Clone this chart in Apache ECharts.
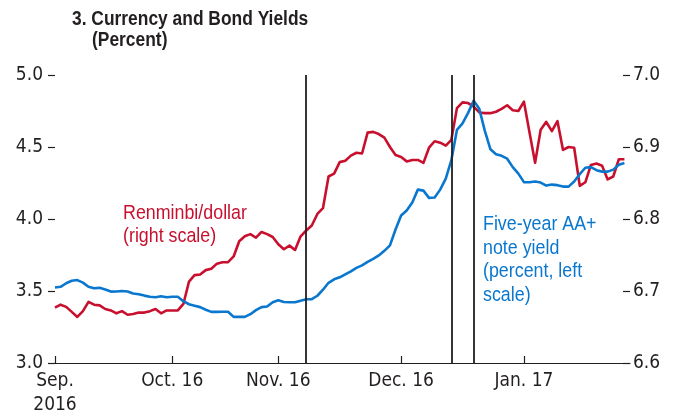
<!DOCTYPE html>
<html>
<head>
<meta charset="utf-8">
<script src="https://cdn.jsdelivr.net/npm/echarts@6/dist/echarts.min.js"></script>
<style>
  html, body { margin: 0; padding: 0; background: #fff; }
  #chart { width: 674px; height: 417px; }
</style>
</head>
<body>
<div id="chart"></div>
<script>
// Trading calendar: weekdays from 1 Sep 2016 to 27 Jan 2017, minus market closures
const firstDay = '2016-09-01';
const lastDay = '2017-01-27';
const closedDays = ['2016-09-15', '2016-10-03', '2016-10-04'];

// Month tick labels, in calendar order
const monthLabels = ['Sep.\n2016', 'Oct. 16', 'Nov. 16', 'Dec. 16', 'Jan. 17'];

// Event dates marked with vertical rules
const eventDates = ['2016-11-08', '2016-12-14', '2016-12-20'];

// Five-year AA+ note yield (percent, left scale)
const noteYield = [
  3.524, 3.529, 3.554, 3.571, 3.576, 3.558, 3.529, 3.519, 3.522, 3.510,
  3.496, 3.497, 3.500, 3.497, 3.483, 3.478, 3.468, 3.460, 3.457, 3.464,
  3.457, 3.460, 3.460, 3.429, 3.408, 3.398, 3.388, 3.370, 3.355, 3.355,
  3.356, 3.356, 3.320, 3.320, 3.320, 3.339, 3.367, 3.388, 3.392, 3.422,
  3.436, 3.424, 3.422, 3.422, 3.433, 3.443, 3.443, 3.467, 3.509, 3.557,
  3.581, 3.595, 3.616, 3.637, 3.661, 3.678, 3.702, 3.723, 3.747, 3.779,
  3.817, 3.927, 4.024, 4.059, 4.114, 4.204, 4.197, 4.147, 4.149, 4.204,
  4.280, 4.408, 4.619, 4.664, 4.737, 4.822, 4.765, 4.612, 4.484, 4.450,
  4.439, 4.419, 4.360, 4.315, 4.256, 4.255, 4.260, 4.253, 4.232, 4.239,
  4.235, 4.225, 4.225, 4.260, 4.311, 4.356, 4.360, 4.339, 4.329, 4.329,
  4.343, 4.377, 4.389
];

// Renminbi per dollar (right scale)
const rmbPerDollar = [
  6.677, 6.681, 6.678, 6.671, 6.664, 6.672, 6.685, 6.681, 6.680, 6.675,
  6.673, 6.669, 6.672, 6.667, 6.668, 6.670, 6.670, 6.672, 6.675, 6.669,
  6.673, 6.673, 6.673, 6.682, 6.713, 6.722, 6.723, 6.729, 6.731, 6.738,
  6.740, 6.740, 6.748, 6.769, 6.776, 6.779, 6.774, 6.782, 6.779, 6.775,
  6.765, 6.758, 6.763, 6.757, 6.776, 6.784, 6.791, 6.807, 6.815, 6.859,
  6.863, 6.879, 6.881, 6.888, 6.892, 6.891, 6.920, 6.921, 6.918, 6.913,
  6.900, 6.889, 6.886, 6.880, 6.882, 6.882, 6.878, 6.899, 6.908, 6.906,
  6.902, 6.910, 6.954, 6.962, 6.961, 6.956, 6.948, 6.947, 6.947, 6.949,
  6.953, 6.958, 6.951, 6.950, 6.963, 6.920, 6.878, 6.924, 6.935, 6.922,
  6.936, 6.896, 6.900, 6.899, 6.846, 6.851, 6.875, 6.877, 6.874, 6.855,
  6.859, 6.883, 6.883
];

// Build the list of trading days
function pad(n) { return n < 10 ? '0' + n : '' + n; }
function tradingDays(from, to, closed) {
  const out = [];
  const d = new Date(from + 'T00:00:00Z');
  const end = new Date(to + 'T00:00:00Z');
  while (d <= end) {
    const wd = d.getUTCDay();
    const s = d.getUTCFullYear() + '-' + pad(d.getUTCMonth() + 1) + '-' + pad(d.getUTCDate());
    if (wd !== 0 && wd !== 6 && closed.indexOf(s) < 0) out.push(s);
    d.setUTCDate(d.getUTCDate() + 1);
  }
  return out;
}
const days = tradingDays(firstDay, lastDay, closedDays);

// First trading day of each month gets a tick and a label
const monthStart = {};
let monthCount = 0;
days.forEach((s, i) => {
  const m = s.slice(0, 7);
  if (i === 0 || m !== days[i - 1].slice(0, 7)) {
    monthStart[i] = monthLabels[monthCount++];
  }
});

const RED = '#c8102e';
const BLUE = '#0a77cf';
const INK = '#231f20';
const AXIS_FONT = '"DejaVu Sans Condensed", "Liberation Sans", sans-serif';
const TEXT_FONT = '"Liberation Sans", Arial, sans-serif';

const chart = echarts.init(document.getElementById('chart'), null, { renderer: 'canvas' });

// Narrowed text blocks (horizontal squeeze gives a condensed face)
function note(left, top, text, color, weight, size, lineHeight, squeeze) {
  return {
    type: 'text', left: left, top: top,
    scaleX: squeeze, originX: 0, originY: 0,
    style: {
      text: text, fill: color,
      font: weight + ' ' + size + 'px ' + TEXT_FONT,
      lineHeight: lineHeight
    }
  };
}

chart.setOption({
  animation: false,
  backgroundColor: '#ffffff',
  textStyle: { fontFamily: AXIS_FONT },
  grid: { left: 55, right: 44, top: 75, bottom: 53, containLabel: false },
  graphic: [
    note(72, 8, '3. Currency and Bond Yields', INK, 'bold', 20, 22, 0.87),
    note(92, 29, '(Percent)', INK, 'bold', 20, 22, 0.87),
    note(123, 202, 'Renminbi/dollar\n(right scale)', RED, 'normal', 20.5, 23, 0.87),
    note(483, 213, 'Five-year AA+\nnote yield\n(percent, left\nscale)', BLUE, 'normal', 20.5, 23.5, 0.87)
  ],
  xAxis: {
    type: 'category',
    data: days,
    boundaryGap: false,
    axisLine: { lineStyle: { color: INK, width: 1.2 } },
    axisTick: {
      inside: true, length: 7,
      lineStyle: { color: INK, width: 1.2 },
      interval: (i) => monthStart[i] !== undefined
    },
    axisLabel: {
      interval: (i) => monthStart[i] !== undefined,
      formatter: (v, i) => monthStart[i] || '',
      color: INK, fontSize: 19, fontFamily: AXIS_FONT, lineHeight: 24, margin: 6,
      hideOverlap: false
    },
    splitLine: { show: false }
  },
  yAxis: [
    {
      type: 'value', min: 3, max: 5, interval: 0.5, position: 'left',
      axisLine: { show: false },
      axisTick: { show: true, length: 7, lineStyle: { color: INK, width: 1.2 } },
      axisLabel: { formatter: (v) => v.toFixed(1), color: INK, fontSize: 19, fontFamily: AXIS_FONT, margin: 12 },
      splitLine: { show: false }
    },
    {
      type: 'value', min: 6.6, max: 7.0, interval: 0.1, position: 'right',
      axisLine: { show: false },
      axisTick: { show: true, inside: true, length: 7, lineStyle: { color: INK, width: 1.2 } },
      axisLabel: { formatter: (v) => v.toFixed(1), color: INK, fontSize: 19, fontFamily: AXIS_FONT, margin: 3 },
      splitLine: { show: false }
    }
  ],
  series: [
    {
      name: 'Renminbi/dollar',
      type: 'line', yAxisIndex: 1,
      data: rmbPerDollar,
      showSymbol: false,
      lineStyle: { color: RED, width: 2.6, join: 'round' },
      itemStyle: { color: RED },
      z: 3
    },
    {
      name: 'Five-year AA+ note yield',
      type: 'line', yAxisIndex: 0,
      data: noteYield,
      showSymbol: false,
      lineStyle: { color: BLUE, width: 2.6, join: 'round' },
      itemStyle: { color: BLUE },
      z: 4,
      markLine: {
        silent: true,
        symbol: ['none', 'none'],
        label: { show: false },
        lineStyle: { color: INK, width: 1.8, type: 'solid' },
        data: eventDates.map((d) => ({ xAxis: d }))
      }
    }
  ]
});
</script>
</body>
</html>
